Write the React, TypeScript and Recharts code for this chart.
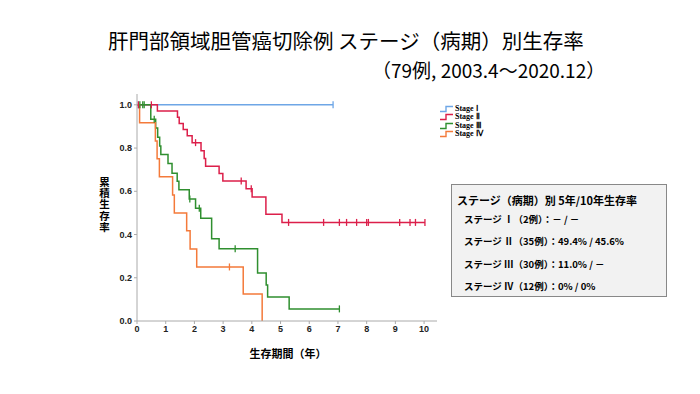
import React from "react";
import { ComposedChart, Line, XAxis, YAxis } from "recharts";

// Kaplan-Meier steps: t = years, s = survival, c = censored
const stage1 = [
  { t: 0, s: 1 },
  { t: 0.05, s: 1, c: true },
  { t: 6.83, s: 1, c: true },
];

const stage2 = [
  { t: 0, s: 1 },
  { t: 0.05, s: 1, c: true },
  { t: 0.5, s: 1, c: true },
  { t: 0.71, s: 0.971 },
  { t: 1.41, s: 0.943 },
  { t: 1.47, s: 0.914 },
  { t: 1.61, s: 0.886 },
  { t: 1.75, s: 0.857 },
  { t: 1.92, s: 0.825 },
  { t: 2.04, s: 0.825, c: true },
  { t: 2.23, s: 0.788 },
  { t: 2.34, s: 0.752 },
  { t: 2.39, s: 0.716 },
  { t: 2.86, s: 0.682 },
  { t: 2.99, s: 0.648 },
  { t: 3.63, s: 0.648, c: true },
  { t: 3.8, s: 0.612 },
  { t: 3.98, s: 0.612, c: true },
  { t: 4.01, s: 0.574 },
  { t: 4.49, s: 0.494 },
  { t: 5.05, s: 0.456 },
  { t: 5.28, s: 0.456, c: true },
  { t: 6.5, s: 0.456, c: true },
  { t: 7.05, s: 0.456, c: true },
  { t: 7.3, s: 0.456, c: true },
  { t: 7.65, s: 0.456, c: true },
  { t: 8.0, s: 0.456, c: true },
  { t: 8.06, s: 0.456, c: true },
  { t: 9.15, s: 0.456, c: true },
  { t: 9.51, s: 0.456, c: true },
  { t: 9.7, s: 0.456, c: true },
  { t: 10.03, s: 0.456, c: true },
];

const stage3 = [
  { t: 0, s: 1 },
  { t: 0.1, s: 1, c: true },
  { t: 0.2, s: 1, c: true },
  { t: 0.25, s: 1, c: true },
  { t: 0.48, s: 0.933 },
  { t: 0.6, s: 0.933, c: true },
  { t: 0.65, s: 0.893 },
  { t: 0.72, s: 0.85 },
  { t: 0.79, s: 0.81 },
  { t: 0.83, s: 0.77 },
  { t: 1.08, s: 0.728 },
  { t: 1.22, s: 0.683 },
  { t: 1.4, s: 0.647 },
  { t: 1.46, s: 0.607 },
  { t: 1.82, s: 0.564 },
  { t: 1.84, s: 0.564, c: true },
  { t: 2.04, s: 0.522 },
  { t: 2.17, s: 0.522, c: true },
  { t: 2.22, s: 0.475 },
  { t: 2.6, s: 0.38 },
  { t: 2.86, s: 0.334 },
  { t: 3.42, s: 0.334, c: true },
  { t: 4.2, s: 0.222 },
  { t: 4.5, s: 0.167 },
  { t: 4.55, s: 0.111 },
  { t: 5.3, s: 0.056 },
  { t: 7.05, s: 0.056, c: true },
];

const stage4 = [
  { t: 0, s: 1 },
  { t: 0.09, s: 0.917 },
  { t: 0.64, s: 0.833 },
  { t: 0.7, s: 0.75 },
  { t: 0.78, s: 0.667 },
  { t: 1.24, s: 0.583 },
  { t: 1.3, s: 0.5 },
  { t: 1.73, s: 0.417 },
  { t: 1.85, s: 0.333 },
  { t: 2.08, s: 0.25 },
  { t: 3.22, s: 0.25, c: true },
  { t: 3.7, s: 0.125 },
  { t: 4.36, s: 0 },
];

const seriesNames = ["Stage Ⅰ", "Stage Ⅱ", "Stage Ⅲ", "Stage Ⅳ"];
const seriesColors = ["#6ea6e6", "#dc1f4a", "#2f8f2f", "#f47a3a"];
const seriesData = [stage1, stage2, stage3, stage4];

const xTicks = [0, 1, 2, 3, 4, 5, 6, 7, 8, 9, 10];
const yTicks = [0, 0.2, 0.4, 0.6, 0.8, 1.0];

const boxTitle = "ステージ（病期）別 5年/10年生存率";
const boxLines = [
  "ステージ Ⅰ（2例）：－ / －",
  "ステージ Ⅱ（35例）：49.4% / 45.6%",
  "ステージ Ⅲ（30例）：11.0% / －",
  "ステージ Ⅳ（12例）：0% / 0%",
];

const JP = '"Noto Sans CJK JP", "Noto Sans", sans-serif';

const censorDot = (color: string) => (props: any) => {
  const { cx, cy, payload, index } = props;
  if (!payload || !payload.c) return <g key={`d-${index}`} />;
  return (
    <path
      key={`d-${index}`}
      d={`M${cx},${cy - 3.5}V${cy + 3.5}`}
      stroke={color}
      strokeWidth={1.3}
    />
  );
};

const tickStyle = {
  fontFamily: '"Liberation Sans", Arial, sans-serif',
  fontSize: 9,
  fontWeight: 700,
  fill: "#222",
};

export default function App() {
  return (
    <div
      style={{
        position: "fixed",
        left: 0,
        top: 0,
        width: 700,
        height: 394,
        background: "#fff",
        fontFamily: JP,
        color: "#000",
      }}
    >
      <div
        style={{
          position: "absolute",
          left: 108,
          top: 26,
          fontSize: 20.5,
          whiteSpace: "nowrap",
          lineHeight: "28px",
        }}
      >
        肝門部領域胆管癌切除例 ステージ（病期）別生存率
      </div>
      <div
        style={{
          position: "absolute",
          left: 372,
          top: 56,
          fontSize: 19,
          whiteSpace: "nowrap",
          lineHeight: "28px",
        }}
      >
        （79例, 2003.4～2020.12）
      </div>

      <ComposedChart
        width={700}
        height={394}
        margin={{ top: 94, left: 107, right: 263, bottom: 53 }}
        style={{ position: "absolute", left: 0, top: 0 }}
      >
        <XAxis
          dataKey="t"
          type="number"
          domain={[0, 10.45]}
          ticks={xTicks}
          allowDuplicatedCategory={false}
          stroke="#aaa"
          tickSize={3}
          height={20}
          tick={tickStyle}
          tickFormatter={(v) => String(v)}
        />
        <YAxis
          dataKey="s"
          type="number"
          domain={[0, 1.05]}
          ticks={yTicks}
          stroke="#aaa"
          tickSize={3}
          width={30}
          tick={tickStyle}
          tickFormatter={(v) => v.toFixed(1)}
        />
        {seriesData.map((d, i) => (
          <Line
            key={seriesNames[i]}
            data={d}
            dataKey="s"
            type="stepAfter"
            stroke={seriesColors[i]}
            strokeWidth={1.5}
            dot={censorDot(seriesColors[i])}
            activeDot={false}
            isAnimationActive={false}
          />
        ))}
      </ComposedChart>

      <div
        style={{
          position: "absolute",
          left: 97,
          top: 177,
          writingMode: "vertical-rl",
          textOrientation: "upright",
          fontSize: 10.5,
          fontWeight: 700,
          lineHeight: "14px",
          letterSpacing: 0.6,
        }}
      >
        累積生存率
      </div>
      <div
        style={{
          position: "absolute",
          left: 188,
          width: 200,
          top: 345,
          fontSize: 11,
          fontWeight: 700,
          textAlign: "center",
        }}
      >
        生存期間（年）
      </div>

      <div style={{ position: "absolute", left: 440, top: 105 }}>
        {seriesNames.map((n, i) => (
          <div
            key={n}
            style={{ display: "flex", alignItems: "center", height: 8.3 }}
          >
            <svg width={14} height={8}>
              <path
                d="M0,6.5H6V1.5H13"
                fill="none"
                stroke={seriesColors[i]}
                strokeWidth={1.4}
              />
            </svg>
            <span
              style={{
                fontFamily: '"Liberation Serif", serif',
                fontSize: 8,
                fontWeight: 700,
                marginLeft: 1,
                lineHeight: "8px",
              }}
            >
              {n}
            </span>
          </div>
        ))}
      </div>

      <div
        style={{
          position: "absolute",
          left: 451,
          top: 184,
          width: 214,
          height: 111,
          background: "#f2f2f2",
          border: "1px solid #888",
        }}
      >
        <div
          style={{
            position: "absolute",
            left: 5,
            top: 7,
            fontSize: 11,
            fontWeight: 700,
            whiteSpace: "nowrap",
          }}
        >
          {boxTitle}
        </div>
        {boxLines.map((l, i) => (
          <div
            key={l}
            style={{
              position: "absolute",
              left: 12,
              top: 27 + i * 22.4,
              fontSize: 9.5,
              fontWeight: 700,
              whiteSpace: "nowrap",
            }}
          >
            {l}
          </div>
        ))}
      </div>
    </div>
  );
}
